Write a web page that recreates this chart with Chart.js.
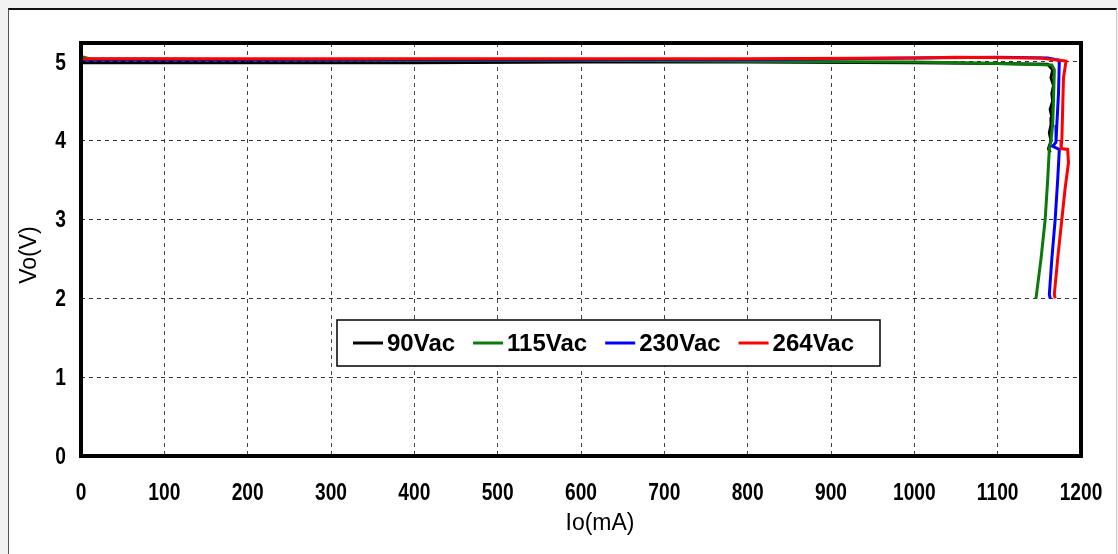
<!DOCTYPE html>
<html>
<head>
<meta charset="utf-8">
<script src="https://cdn.jsdelivr.net/npm/chart.js@4/dist/chart.umd.min.js"></script>
<style>
  html, body { margin: 0; padding: 0; background: #f2f2f2; }
  #frame {
    position: absolute; left: 8px; top: 8px; width: 1109px; height: 546px;
    background: #fff; box-sizing: border-box;
    border-top: 2px solid #111; border-left: 1px solid #555; border-right: 1px solid #ccc;
  }
  #wrap { position: absolute; left: 0; top: 0; width: 1118px; height: 554px; }
</style>
</head>
<body>
<div id="frame"></div>
<div id="wrap"><canvas id="voChart"></canvas></div>
<script>
// series labels and colours
const seriesLabels = ['90Vac', '115Vac', '230Vac', '264Vac'];
const seriesColors = ['#000000', '#0a7a0a', '#0000ff', '#ff0000'];

// Io (mA) / Vo (V)
const io90 = [0, 200, 400, 600, 800, 1000, 1100, 1160, 1166, 1164, 1167, 1165, 1166, 1163, 1165, 1164, 1162, 1164, 1161, 1163];
const vo90 = [4.99, 4.99, 4.99, 5.0, 5.0, 4.99, 4.98, 4.97, 4.9, 4.8, 4.7, 4.6, 4.5, 4.4, 4.3, 4.2, 4.1, 4.0, 3.9, 3.85];

const io115 = [0, 10, 200, 400, 600, 800, 1000, 1100, 1165, 1168, 1167, 1166, 1164, 1162, 1160, 1157, 1152, 1146];
const vo115 = [5.07, 5.04, 5.03, 5.02, 5.02, 5.01, 5.0, 4.98, 4.96, 4.9, 4.5, 4.2, 4.0, 3.9, 3.5, 3.0, 2.5, 2.0];

const io230 = [0, 200, 400, 600, 800, 1000, 1100, 1160, 1174, 1173, 1171, 1170, 1166, 1174, 1172, 1169, 1165, 1162, 1163];
const vo230 = [5.03, 5.03, 5.03, 5.03, 5.03, 5.05, 5.06, 5.05, 5.02, 4.6, 4.2, 3.98, 3.93, 3.89, 3.5, 3.0, 2.5, 2.05, 2.0];

const io264 = [0, 200, 400, 600, 800, 1000, 1050, 1150, 1182, 1179, 1178, 1177, 1176, 1184, 1185, 1181, 1177, 1172, 1168, 1169];
const vo264 = [5.04, 5.04, 5.04, 5.04, 5.04, 5.05, 5.06, 5.05, 5.01, 4.8, 4.4, 4.0, 3.9, 3.89, 3.72, 3.4, 3.0, 2.5, 2.05, 2.0];

const ioSeries = [io90, io115, io230, io264];
const voSeries = [vo90, vo115, vo230, vo264];

const tickFont = 'bold 24px "Liberation Sans", Arial, sans-serif';
const titleFont = '23px "Liberation Sans", Arial, sans-serif';
const legendFont = 'bold 24px "Liberation Sans", Arial, sans-serif';
const narrow = 0.8; // tick labels are a narrow face in the original

function points(xs, ys) {
  return xs.map(function(x, i) { return { x: x, y: ys[i] }; });
}

const datasets = seriesLabels.map(function(label, i) {
  return {
    label: label,
    data: points(ioSeries[i], voSeries[i]),
    borderColor: seriesColors[i],
    backgroundColor: seriesColors[i],
    borderWidth: 3,
    pointRadius: 0,
    tension: 0,
    order: seriesLabels.length - i
  };
});

function narrowText(ctx, text, x, y) {
  ctx.save();
  ctx.translate(x, y);
  ctx.scale(narrow, 1);
  ctx.fillText(text, 0, 0);
  ctx.restore();
}

// frame, tick labels, axis titles and the boxed legend inside the plot
const decorPlugin = {
  id: 'decor',
  afterDraw: function(chart) {
    const ctx = chart.ctx;
    const a = chart.chartArea;
    ctx.save();

    ctx.strokeStyle = '#000';
    ctx.lineWidth = 4;
    ctx.strokeRect(a.left, a.top, a.right - a.left, a.bottom - a.top);

    // tick labels
    ctx.fillStyle = '#000';
    ctx.font = tickFont;
    ctx.textBaseline = 'middle';
    ctx.textAlign = 'center';
    const xs = chart.scales.x;
    xs.ticks.forEach(function(t) {
      narrowText(ctx, String(t.value), xs.getPixelForValue(t.value), a.bottom + 37);
    });
    ctx.textAlign = 'right';
    const ys = chart.scales.y;
    ys.ticks.forEach(function(t) {
      narrowText(ctx, String(t.value), a.left - 15, ys.getPixelForValue(t.value) + 1);
    });

    // axis titles
    ctx.font = titleFont;
    ctx.textAlign = 'center';
    ctx.fillText('Io(mA)', a.left + 519, a.bottom + 68);
    ctx.save();
    ctx.translate(30, a.top + 212);
    ctx.rotate(-Math.PI / 2);
    ctx.fillText('Vo(V)', 0, 0);
    ctx.restore();

    // legend
    const bx = a.left + 256, by = a.top + 277, bw = 543, bh = 46;
    ctx.fillStyle = '#fff';
    ctx.fillRect(bx, by, bw, bh);
    ctx.strokeStyle = '#000';
    ctx.lineWidth = 1.5;
    ctx.strokeRect(bx, by, bw, bh);
    ctx.font = legendFont;
    ctx.textAlign = 'left';
    let x = bx + 16;
    const cy = by + bh / 2;
    chart.data.datasets.forEach(function(ds) {
      ctx.strokeStyle = ds.borderColor;
      ctx.lineWidth = 3;
      ctx.beginPath();
      ctx.moveTo(x, cy);
      ctx.lineTo(x + 30, cy);
      ctx.stroke();
      ctx.fillStyle = '#000';
      ctx.fillText(ds.label, x + 34, cy + 1);
      x += 34 + ctx.measureText(ds.label).width + 18;
    });
    ctx.restore();
  }
};

const chart = new Chart(document.getElementById('voChart').getContext('2d'), {
  type: 'line',
  data: { datasets: datasets },
  options: {
    responsive: true,
    maintainAspectRatio: false,
    animation: false,
    layout: { padding: { top: 43, right: 37, left: 0, bottom: 0 } },
    plugins: { legend: { display: false }, tooltip: { enabled: false } },
    scales: {
      x: {
        type: 'linear',
        min: 0,
        max: 1200,
        afterFit: function(scale) { scale.height = 98; },
        ticks: { stepSize: 100, display: false },
        grid: { color: '#444', lineWidth: 1, drawTicks: false },
        border: { display: false, dash: [4, 4] }
      },
      y: {
        type: 'linear',
        min: 0,
        max: 5.24,
        afterFit: function(scale) { scale.width = 81; },
        ticks: { stepSize: 1, includeBounds: false, display: false },
        grid: { color: '#333', lineWidth: 1, drawTicks: false },
        border: { display: false, dash: [4, 4] }
      }
    }
  },
  plugins: [decorPlugin]
});
</script>
</body>
</html>
